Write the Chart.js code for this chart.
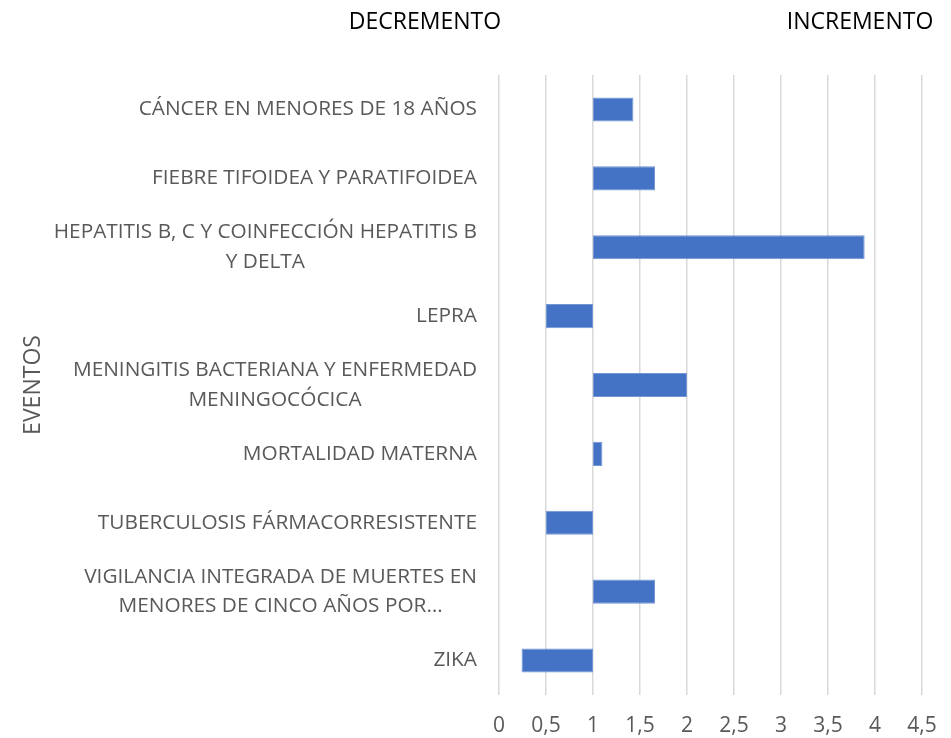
<!DOCTYPE html>
<html>
<head>
<meta charset="utf-8">
<script src="https://cdn.jsdelivr.net/npm/chart.js@4.4.1/dist/chart.umd.min.js"></script>
<style>
  html, body { margin: 0; padding: 0; background: #fff; }
  #wrap { width: 951px; height: 738px; }
</style>
</head>
<body>
<div id="wrap"><canvas id="eventChart"></canvas></div>
<script>
// eventos (una etiqueta puede tener varias líneas)
const categories = [
    ['CÁNCER EN MENORES DE 18 AÑOS'],
    ['FIEBRE TIFOIDEA Y PARATIFOIDEA'],
    ['HEPATITIS B, C Y COINFECCIÓN HEPATITIS B', 'Y DELTA'],
    ['LEPRA'],
    ['MENINGITIS BACTERIANA Y ENFERMEDAD', 'MENINGOCÓCICA'],
    ['MORTALIDAD MATERNA'],
    ['TUBERCULOSIS FÁRMACORRESISTENTE'],
    ['VIGILANCIA INTEGRADA DE MUERTES EN', 'MENORES DE CINCO AÑOS POR…'],
    ['ZIKA']
];
const ratios = [1.43, 1.66, 3.89, 0.5, 2.0, 1.1, 0.5, 1.66, 0.24];
const baseline = 1;
const xTicks = [0, 0.5, 1, 1.5, 2, 2.5, 3, 3.5, 4, 4.5];
const headers = ['DECREMENTO', 'INCREMENTO'];

const FONT = '"Open Sans", "DejaVu Sans", sans-serif';
const GREY = '#595959';

// titles, category labels and axis title
const textPlugin = {
    id: 'textPlugin',
    afterDraw(chart) {
        const ctx = chart.ctx;
        const yScale = chart.scales.y;
        ctx.save();
        ctx.fillStyle = '#000';
        ctx.font = '23px ' + FONT;
        ctx.textAlign = 'center';
        ctx.textBaseline = 'middle';
        ctx.fillText(headers[0], 425, 22);
        ctx.fillText(headers[1], 860, 22);

        ctx.fillStyle = GREY;
        ctx.font = '20.8px ' + FONT;
        const rightEdge = chart.chartArea.left - 22;
        const lineH = 29.5;
        categories.forEach((lines, i) => {
            const y = yScale.getPixelForValue(i);
            const maxW = Math.max(...lines.map(l => ctx.measureText(l).width));
            const cx = rightEdge - maxW / 2;
            const top = y - (lines.length - 1) * lineH / 2;
            lines.forEach((l, j) => ctx.fillText(l, cx, top + j * lineH));
        });

        ctx.font = '23px ' + FONT;
        ctx.translate(33, (chart.chartArea.top + chart.chartArea.bottom) / 2);
        ctx.rotate(-Math.PI / 2);
        ctx.fillText('EVENTOS', 0, 0);
        ctx.restore();
    }
};

new Chart(document.getElementById('eventChart'), {
    type: 'bar',
    data: {
        labels: categories,
        datasets: [{
            data: ratios.map(v => [baseline, v]),
            backgroundColor: '#4472C4',
            borderColor: '#7396d4',
            borderWidth: 1,
            borderSkipped: false,
            categoryPercentage: 1,
            barPercentage: 0.35
        }]
    },
    options: {
        indexAxis: 'y',
        responsive: true,
        maintainAspectRatio: false,
        animation: false,
        layout: { padding: { top: 75, right: 29, left: 0, bottom: 0 } },
        plugins: { legend: { display: false }, tooltip: { enabled: false } },
        scales: {
            x: {
                min: 0,
                max: 4.5,
                afterBuildTicks: s => { s.ticks = xTicks.map(v => ({ value: v })); },
                ticks: {
                    color: GREY,
                    font: { family: FONT, size: 21 },
                    padding: 18,
                    callback: v => String(v).replace('.', ',')
                },
                grid: { color: '#d9d9d9', lineWidth: 1.5, drawTicks: false },
                border: { display: false },
                afterFit: s => { s.height = 43; s.paddingLeft = 0; s.paddingRight = 0; }
            },
            y: {
                ticks: { display: false },
                grid: { display: false },
                border: { display: false },
                afterFit: s => { s.width = 499; }
            }
        }
    },
    plugins: [textPlugin]
});
</script>
</body>
</html>
